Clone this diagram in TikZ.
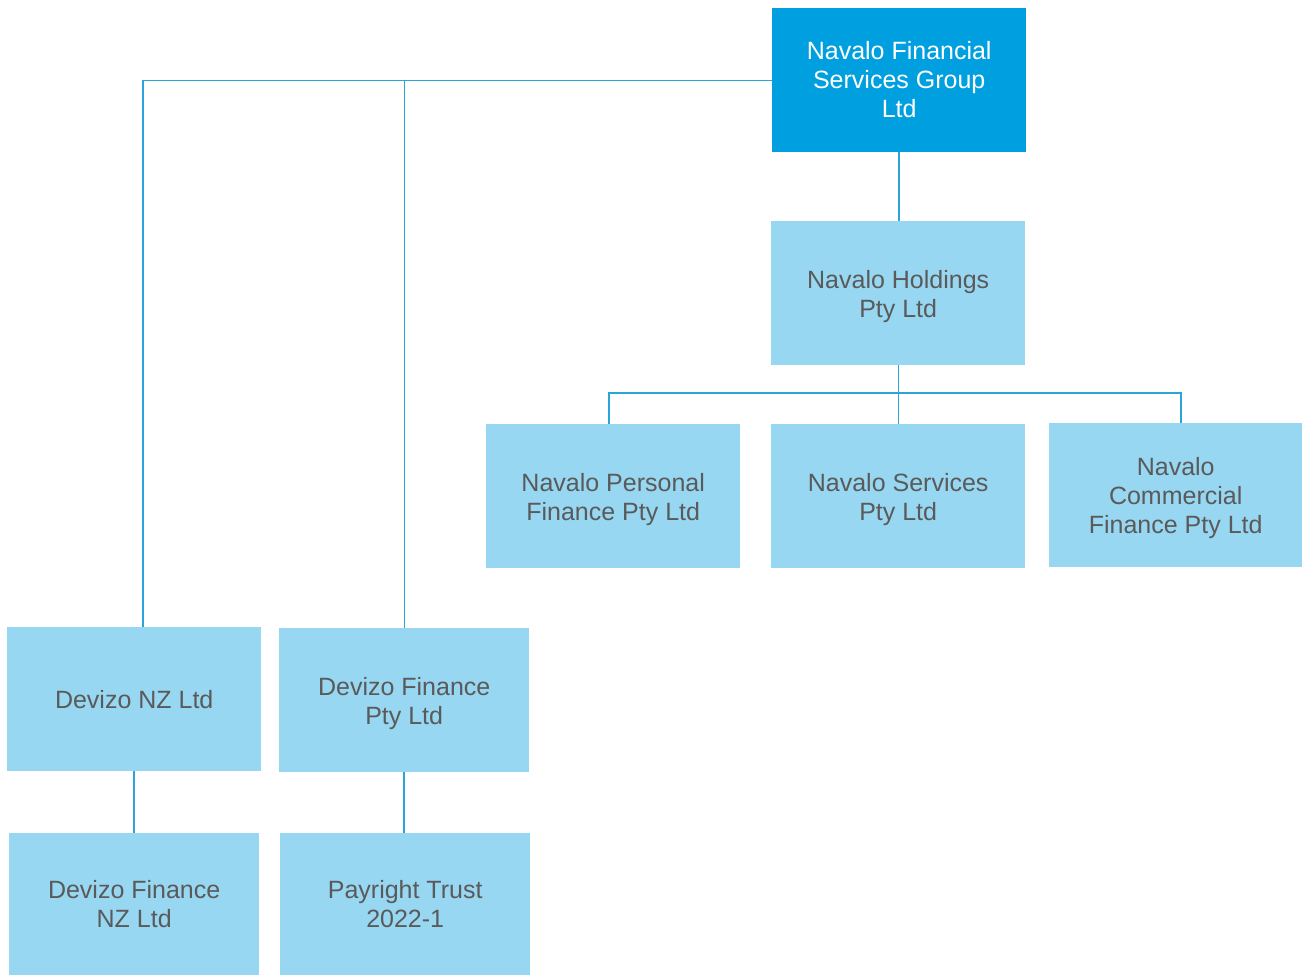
\documentclass[tikz,border=0pt]{standalone}
\usepackage{fontspec}
\setmainfont{Liberation Sans}
\definecolor{topblue}{HTML}{009FE0}
\definecolor{lightblue}{HTML}{97D7F1}
\definecolor{txtgray}{HTML}{5A5A5A}
\definecolor{linec}{HTML}{2AA4D9}
\begin{document}
\begin{tikzpicture}[x=1pt,y=-1pt,
  box/.style={fill=lightblue,draw=none,anchor=north west,inner sep=0pt},
  topbox/.style={box,fill=topblue},
  txt/.style={align=center,text=txtgray,font=\fontsize{25}{29}\selectfont,inner sep=0pt,yshift=-3pt},
  toptxt/.style={txt,text=white,yshift=4pt},
  conn/.style={draw=linec,line width=1.2pt}]
\useasboundingbox (0,0) rectangle (1302,975);
\node[topbox,minimum width=254pt,minimum height=144pt,label={[toptxt]center:Navalo Financial\\Services Group\\Ltd}] (top) at (772,8) {};
\node[box,minimum width=254pt,minimum height=144pt,label={[txt]center:Navalo Holdings\\Pty Ltd}] (hold) at (771,221) {};
\node[box,minimum width=254pt,minimum height=144pt,label={[txt]center:Navalo Personal\\Finance Pty Ltd}] (pers) at (486,424) {};
\node[box,minimum width=254pt,minimum height=144pt,label={[txt]center:Navalo Services\\Pty Ltd}] (serv) at (771,424) {};
\node[box,minimum width=253pt,minimum height=144pt,label={[txt]center:Navalo\\Commercial\\Finance Pty Ltd}] (comm) at (1049,423) {};
\node[box,minimum width=254pt,minimum height=144pt,label={[txt,yshift=3pt]center:Devizo NZ Ltd}] (dnz) at (7,627) {};
\node[box,minimum width=250pt,minimum height=144pt,label={[txt]center:Devizo Finance\\Pty Ltd}] (dfp) at (279,628) {};
\node[box,minimum width=250pt,minimum height=142pt,label={[txt,yshift=3pt]center:Devizo Finance\\NZ Ltd}] (dfnz) at (9,833) {};
\node[box,minimum width=250pt,minimum height=142pt,label={[txt,yshift=3pt]center:Payright Trust\\2022-1}] (pay) at (280,833) {};
\coordinate (bus) at (0,393);
\draw[conn] (top.west) -| (dnz.north -| 143,0);
\draw[conn] (top.west -| dfp.north) -- (dfp.north);
\draw[conn] (top.south -| 899,0) -- (hold.north -| 899,0);
\draw[conn] (hold.south) -- (serv.north);
\draw[conn] (hold.south |- bus) -| (pers.north -| 609,0);
\draw[conn] (hold.south |- bus) -| (comm.north -| 1181,0);
\draw[conn] (dnz.south -| 134,0) -- (dfnz.north -| 134,0);
\draw[conn] (dfp.south -| 404,0) -- (pay.north -| 404,0);
\end{tikzpicture}
\end{document}
